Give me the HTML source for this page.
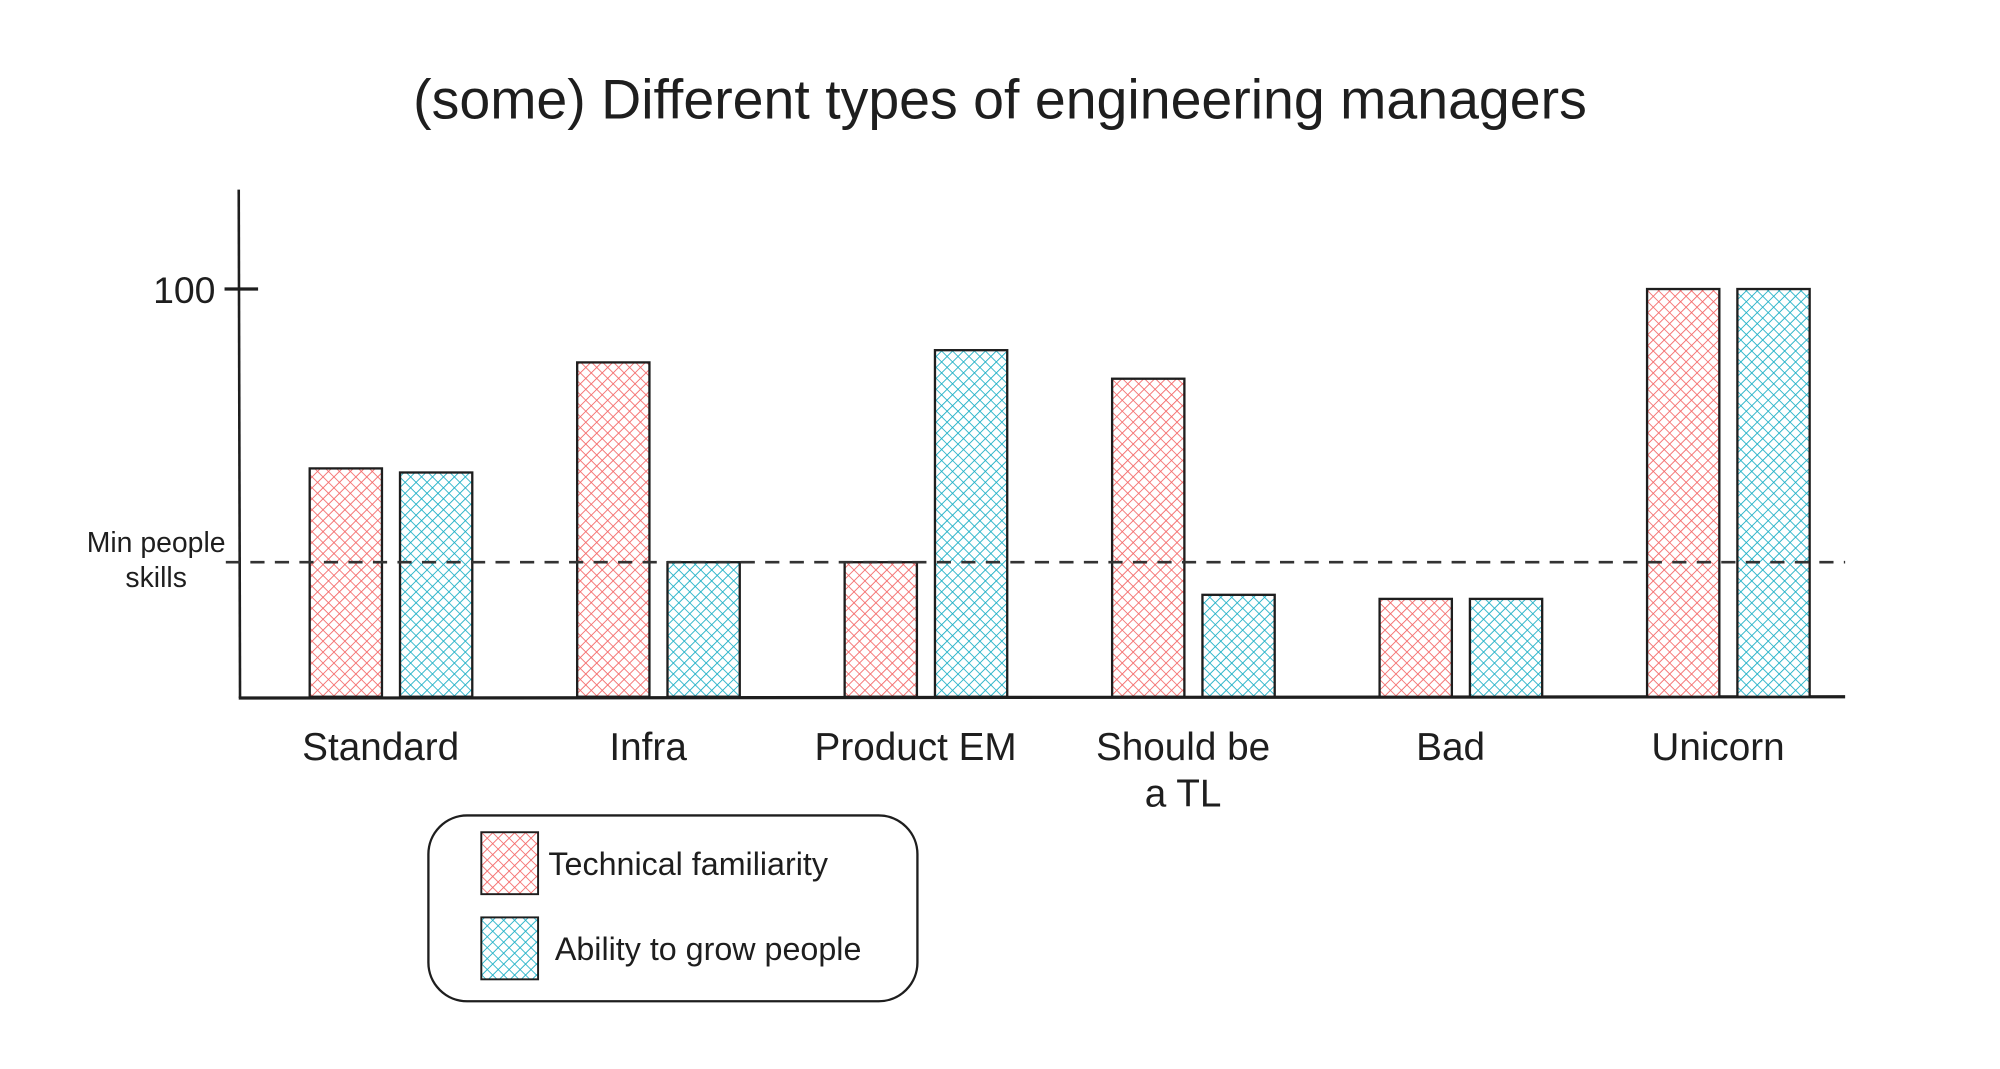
<!DOCTYPE html>
<html><head><meta charset="utf-8"><style>
html,body{margin:0;padding:0;background:#fff;}
svg{display:block;}
text{font-family:"Liberation Sans",sans-serif;fill:#1e1e1e;}
</style></head><body>
<svg id="chart" width="2000" height="1069" viewBox="0 0 1550 828.5" xmlns="http://www.w3.org/2000/svg">
<defs>
<pattern id="hr" width="6" height="6" patternUnits="userSpaceOnUse" patternTransform="rotate(45)"><rect width="6" height="6" fill="#fff"/><path d="M0 0V6M0 0H6" stroke="#f46a6a" stroke-width="1.4"/></pattern>
<pattern id="hb" width="6" height="6" patternUnits="userSpaceOnUse" patternTransform="rotate(45)"><rect width="6" height="6" fill="#fff"/><path d="M0 0V6M0 0H6" stroke="#1fb0c6" stroke-width="1.4"/></pattern>
</defs>
<text x="775" y="92" font-size="43" text-anchor="middle">(some) Different types of engineering managers</text>
<line x1="185" y1="147" x2="186" y2="541" stroke="#1e1e1e" stroke-width="2"/>
<line x1="185" y1="541" x2="1430" y2="540" stroke="#1e1e1e" stroke-width="2.5"/>
<line x1="174" y1="224" x2="200" y2="224" stroke="#1e1e1e" stroke-width="2.5"/>
<text x="167" y="235" font-size="29" text-anchor="end">100</text>
<g id="bars"></g>
<line id="minline" x1="175" x2="1430" stroke="#333" stroke-width="2" stroke-dasharray="11 8"/>
<text x="121" y="428" font-size="22" text-anchor="middle">Min people</text>
<text x="121" y="455" font-size="22" text-anchor="middle">skills</text>
<g id="xlabels"></g>
<g>
<rect x="332" y="632" width="379" height="144" rx="30" fill="#fff" stroke="#1e1e1e" stroke-width="1.8"/>
<rect x="373" y="645" width="44" height="48" fill="url(#hr)" stroke="#1e1e1e" stroke-width="1.5"/>
<text x="425" y="678" font-size="25">Technical familiarity</text>
<rect x="373" y="711" width="44" height="48" fill="url(#hb)" stroke="#1e1e1e" stroke-width="1.5"/>
<text x="430" y="744" font-size="25">Ability to grow people</text>
</g>
</svg>
<script>
const categories = ["Standard","Infra","Product EM","Should be|a TL","Bad","Unicorn"];
const technical = [56, 82, 33, 78, 24, 100];
const growth = [55, 33, 85, 25, 24, 100];
const minPeopleSkills = 33;

const NS = "http://www.w3.org/2000/svg";
const y0 = 540, y100 = 224;
function yScale(v){ return y0 - (y0 - y100) * v / 100; }
const groupCenters0 = 303, groupStep = 207.3, barW = 56, gap = 14;
function xCenter(i){ return groupCenters0 + i * groupStep; }

const bars = document.getElementById('bars');
categories.forEach((c, i) => {
  [[technical, 'url(#hr)', 'technical'], [growth, 'url(#hb)', 'growth']].forEach((s, j) => {
    const r = document.createElementNS(NS, 'rect');
    const x = xCenter(i) - barW - gap / 2 + j * (barW + gap);
    const y = yScale(s[0][i]);
    r.setAttribute('x', x);
    r.setAttribute('y', y);
    r.setAttribute('width', barW);
    r.setAttribute('height', y0 - y);
    r.setAttribute('fill', s[1]);
    r.setAttribute('stroke', '#1e1e1e');
    r.setAttribute('stroke-width', '1.8');
    
    
    bars.appendChild(r);
  });
});

const ml = document.getElementById('minline');
ml.setAttribute('y1', yScale(minPeopleSkills));
ml.setAttribute('y2', yScale(minPeopleSkills));

const xl = document.getElementById('xlabels');
categories.forEach((c, i) => {
  c.split('|').forEach((line, k) => {
    const t = document.createElementNS(NS, 'text');
    t.setAttribute('x', xCenter(i) - 8);
    t.setAttribute('y', 589 + k * 36);
    t.setAttribute('font-size', '30');
    t.setAttribute('text-anchor', 'middle');
    t.textContent = line;
    
    
    xl.appendChild(t);
  });
});
</script>
</body></html>
